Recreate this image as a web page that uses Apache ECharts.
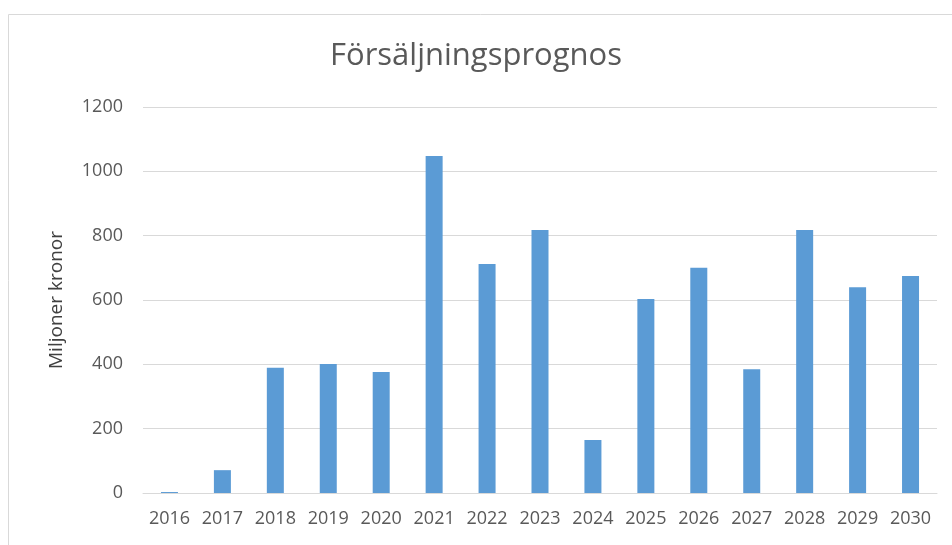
<!DOCTYPE html>
<html>
<head>
<meta charset="utf-8">
<script src="https://cdn.jsdelivr.net/npm/echarts@6/dist/echarts.min.js"></script>
<style>
  html, body { margin: 0; padding: 0; background: #fff; }
  #root { width: 952px; height: 545px; }
</style>
</head>
<body>
<div id="root"></div>
<script>
var years = ['2016', '2017', '2018', '2019', '2020', '2021', '2022', '2023',
    '2024', '2025', '2026', '2027', '2028', '2029', '2030'];
var sales = [3, 71, 389, 401, 376, 1048, 712, 818, 165, 603, 700, 385, 818, 640, 675];
var yTicks = [0, 200, 400, 600, 800, 1000, 1200];

var chart = echarts.init(document.getElementById('root'));
var font = '"Open Sans", "Noto Sans", sans-serif';
var option = {
    animation: false,
    graphic: [{
        type: 'rect',
        shape: { x: 8.5, y: 14.5, width: 960, height: 560 },
        style: { fill: 'none', stroke: '#d9d9d9', lineWidth: 1 },
        silent: true
    }],
    title: {
        text: 'Försäljningsprognos',
        left: 'center',
        top: 36,
        textStyle: { fontFamily: font, fontSize: 31, fontWeight: 'normal', color: '#595959' }
    },
    grid: { left: 143, right: 15, top: 107, bottom: 52 },
    xAxis: {
        type: 'category',
        data: years,
        axisLine: { lineStyle: { color: '#d9d9d9' } },
        axisTick: { show: false },
        axisLabel: {
            fontFamily: font, fontSize: 18, color: '#595959', margin: 17,
            interval: 0, hideOverlap: false
        }
    },
    yAxis: {
        type: 'value',
        min: yTicks[0],
        max: yTicks[yTicks.length - 1],
        interval: 200,
        name: 'Miljoner kronor',
        nameLocation: 'middle',
        nameGap: 77,
        nameTextStyle: { fontFamily: font, fontSize: 19, color: '#404040' },
        axisLine: { show: false },
        axisTick: { show: false },
        splitLine: { lineStyle: { color: '#d9d9d9' } },
        axisLabel: {
            fontFamily: font, fontSize: 18, color: '#595959', margin: 20,
            formatter: function (v) { return String(v); }
        }
    },
    series: [{
        type: 'bar',
        data: sales,
        barWidth: 17,
        itemStyle: { color: '#5B9BD5' }
    }]
};
chart.setOption(option);
</script>
</body>
</html>
